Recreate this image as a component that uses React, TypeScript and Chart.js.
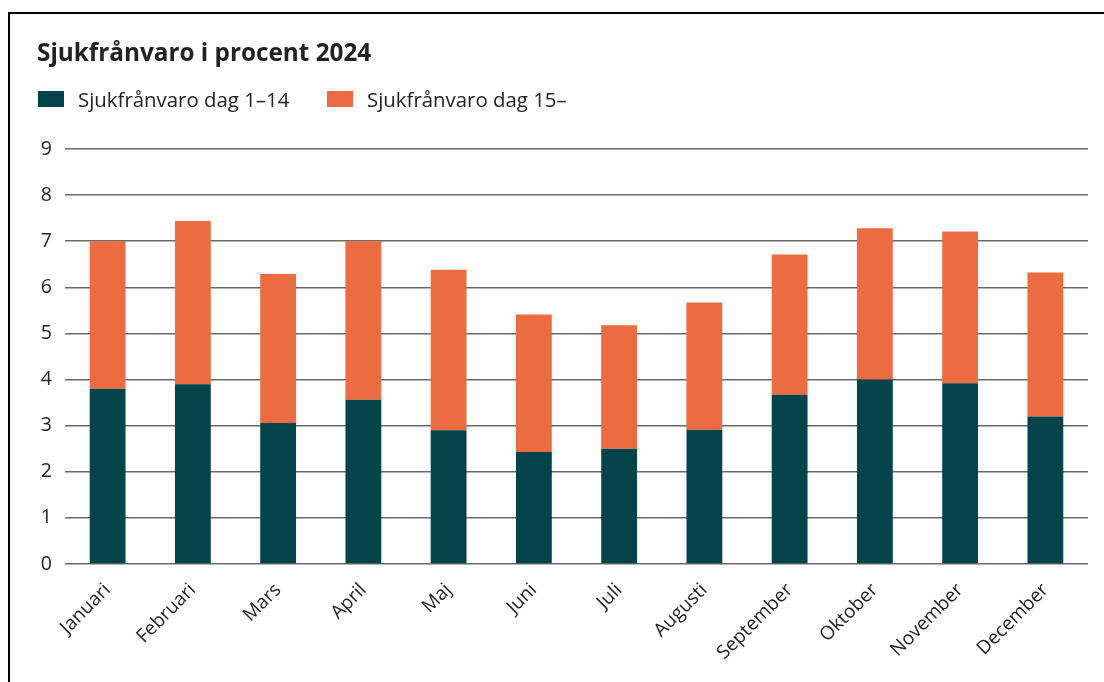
import React, { useEffect, useRef } from "react";
import { Chart, registerables } from "chart.js";

Chart.register(...registerables);

const titleText = "Sjukfrånvaro i procent 2024";
const months = ["Januari", "Februari", "Mars", "April", "Maj", "Juni", "Juli", "Augusti", "September", "Oktober", "November", "December"];
const seriesLabels = ["Sjukfrånvaro dag 1–14", "Sjukfrånvaro dag 15–"];
const shortTerm = [3.8, 3.9, 3.06, 3.56, 2.9, 2.43, 2.5, 2.91, 3.67, 4.0, 3.92, 3.2];
const totals = [7.0, 7.44, 6.29, 7.0, 6.38, 5.41, 5.18, 5.67, 6.71, 7.28, 7.21, 6.32];
const longTerm = totals.map((t, i) => Math.round((t - shortTerm[i]) * 100) / 100);
const yTicks = [0, 1, 2, 3, 4, 5, 6, 7, 8, 9];
const colors = ["#03444A", "#EC6B41"];
const FONT = "'Open Sans', sans-serif";

export default function App() {
  const ref = useRef<HTMLCanvasElement | null>(null);
  useEffect(() => {
    if (!ref.current) return;
    const chart = new Chart(ref.current, {
      type: "bar",
      data: {
        labels: months,
        datasets: [
          { label: seriesLabels[0], data: shortTerm, backgroundColor: colors[0], borderWidth: 0, barPercentage: 0.42, categoryPercentage: 1 },
          { label: seriesLabels[1], data: longTerm, backgroundColor: colors[1], borderWidth: 0, barPercentage: 0.42, categoryPercentage: 1 },
        ],
      },
      options: {
        animation: false,
        responsive: false,
        layout: { padding: { top: 149, right: 16, left: 0, bottom: 0 } },
        plugins: { legend: { display: false }, title: { display: false }, tooltip: { enabled: false } },
        scales: {
          x: {
            stacked: true,
            grid: { display: false, drawTicks: false },
            border: { display: false },
            ticks: { color: "#222", font: { family: FONT, size: 19 }, maxRotation: 45, minRotation: 45, padding: 15 },
            afterFit: (axis: any) => { axis.height = 118; },
          },
          y: {
            stacked: true,
            min: 0,
            max: 9,
            afterBuildTicks: (axis: any) => { axis.ticks = yTicks.map((v) => ({ value: v })); },
            grid: { color: "#6a6a6a", lineWidth: 1.5, drawTicks: false },
            border: { display: false },
            ticks: { color: "#222", font: { family: FONT, size: 19.5 }, padding: 13 },
            afterFit: (axis: any) => { axis.width = 65; },
          },
        },
      },
    });
    return () => chart.destroy();
  }, []);

  return (
    <div style={{ position: "fixed", left: 0, top: 0, width: 1104, height: 682, background: "#fff", overflow: "hidden" }}>
      <div style={{ position: "absolute", left: 8, top: 12, width: 1300, height: 900, borderTop: "2px solid #000", borderLeft: "2px solid #000" }} />
      <canvas ref={ref} width={1104} height={682} style={{ position: "absolute", left: 0, top: 0 }} />
      <div style={{ position: "absolute", left: 37, top: 35, fontFamily: FONT, fontWeight: 700, fontSize: 24.3, color: "#222", whiteSpace: "nowrap" }}>{titleText}</div>
      <div style={{ position: "absolute", left: 38, top: 85, display: "flex", fontFamily: FONT, fontSize: 20.4, color: "#222", whiteSpace: "nowrap" }}>
        {seriesLabels.map((l, i) => (
          <div key={l} style={{ display: "flex", alignItems: "center", width: i === 0 ? 289 : "auto" }}>
            <span style={{ display: "inline-block", width: 26, height: 16, background: colors[i], marginRight: 14 }} />
            <span>{l}</span>
          </div>
        ))}
      </div>
    </div>
  );
}
